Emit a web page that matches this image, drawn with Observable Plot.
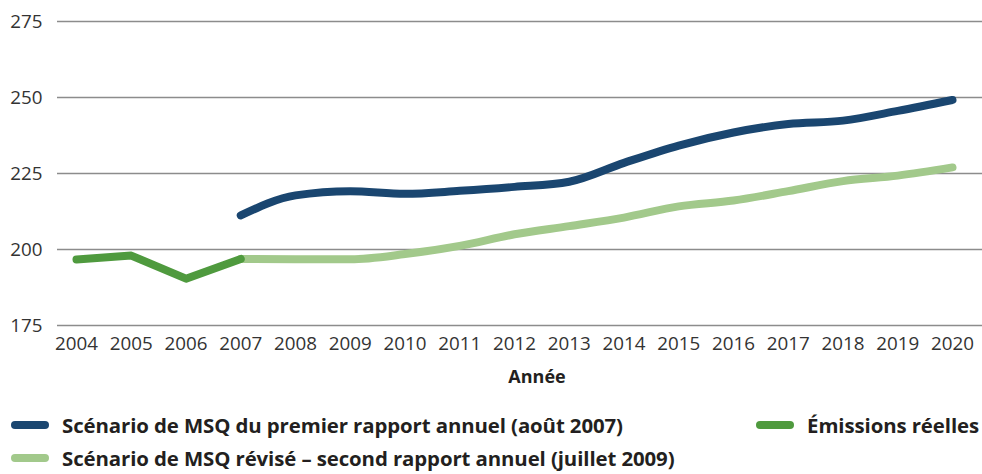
<!DOCTYPE html>
<html><head><meta charset="utf-8">
<script src="https://cdn.jsdelivr.net/npm/d3@7"></script>
<script src="https://cdn.jsdelivr.net/npm/@observablehq/plot@0.6"></script>
<style>
body{margin:0;background:#fff;font-family:"Open Sans",sans-serif;}
#wrap{position:relative;width:982px;height:474px;overflow:hidden}
.leg{position:absolute;font-weight:700;font-size:20.4px;letter-spacing:-0.1px;color:#231f20;display:flex;align-items:center;white-space:nowrap}
.sw{display:inline-block;width:38px;height:8px;border-radius:4px;margin-right:13px}
</style></head><body><div id="wrap"></div>
<script>
const reellesYears = [2004, 2005, 2006, 2007];
const reelles = [196.7, 198.0, 190.4, 196.9];
const scenarioYears = [2007, 2008, 2009, 2010, 2011, 2012, 2013, 2014, 2015, 2016, 2017, 2018, 2019, 2020];
const premier = [211.2, 217.8, 219.2, 218.3, 219.3, 220.6, 222.3, 228.5, 234.2, 238.5, 241.3, 242.4, 245.6, 249.2];
const revise = [196.9, 196.8, 196.8, 198.5, 201.2, 205.0, 207.7, 210.5, 214.2, 216.1, 219.2, 222.5, 224.3, 227.0];
const yTicks = [175, 200, 225, 250, 275];
const xTicks = d3.range(2004, 2021);
const labels = {
  premier: "Scénario de MSQ du premier rapport annuel (août 2007)",
  revise: "Scénario de MSQ révisé – second rapport annuel (juillet 2009)",
  reelles: "Émissions réelles",
  xTitle: "Année"
};
const colors = {premier: "#1a4670", revise: "#a2c98b", reelles: "#4f9a3e"};

const dReelles = reellesYears.map((x, i) => ({x, y: reelles[i]}));
const dPremier = scenarioYears.map((x, i) => ({x, y: premier[i]}));
const dRevise = scenarioYears.map((x, i) => ({x, y: revise[i]}));

const chart = Plot.plot({
  width: 982,
  height: 395,
  marginTop: 21,
  marginBottom: 70,
  marginLeft: 57,
  marginRight: 0,
  style: {fontFamily: "'Open Sans', sans-serif", fontSize: "18.8px", color: "#333"},
  x: {domain: [2004, 2020], range: [76, 952]},
  y: {domain: [175, 275]},
  marks: [
    Plot.ruleY(yTicks, {stroke: "#8c8c8c", strokeWidth: 1.6}),
    Plot.axisY({ticks: yTicks, tickSize: 0, tickPadding: 15, label: null, fill: "#333"}),
    Plot.axisX({ticks: xTicks, tickFormat: d => String(d), tickSize: 0, tickPadding: 11, label: null, fill: "#333"}),
    Plot.text([labels.xTitle], {frameAnchor: "bottom", dx: 17, dy: 57, fontWeight: "bold", fontSize: 18, fill: "#231f20"}),
    Plot.line(dPremier, {x: "x", y: "y", stroke: colors.premier, strokeWidth: 8, curve: "monotone-x", strokeLinecap: "round"}),
    Plot.line(dRevise, {x: "x", y: "y", stroke: colors.revise, strokeWidth: 8, curve: "monotone-x", strokeLinecap: "round"}),
    Plot.line(dReelles, {x: "x", y: "y", stroke: colors.reelles, strokeWidth: 8, curve: "linear", strokeLinecap: "round", strokeLinejoin: "round"})
  ]
});
const wrap = document.getElementById("wrap");
chart.style.position = "absolute";
chart.style.left = "0";
chart.style.top = "0";
wrap.appendChild(chart);

function leg(text, color, pos, top) {
  const d = document.createElement("div");
  d.className = "leg";
  if (pos.left != null) d.style.left = pos.left + "px";
  if (pos.right != null) d.style.right = pos.right + "px";
  d.style.top = top + "px";
  const s = document.createElement("span");
  s.className = "sw";
  s.style.background = color;
  d.appendChild(s);
  d.appendChild(document.createTextNode(text));
  wrap.appendChild(d);
}
leg(labels.premier, colors.premier, {left: 11}, 411);
leg(labels.reelles, colors.reelles, {right: 3}, 411);
leg(labels.revise, colors.revise, {left: 11}, 444);
</script></body></html>
